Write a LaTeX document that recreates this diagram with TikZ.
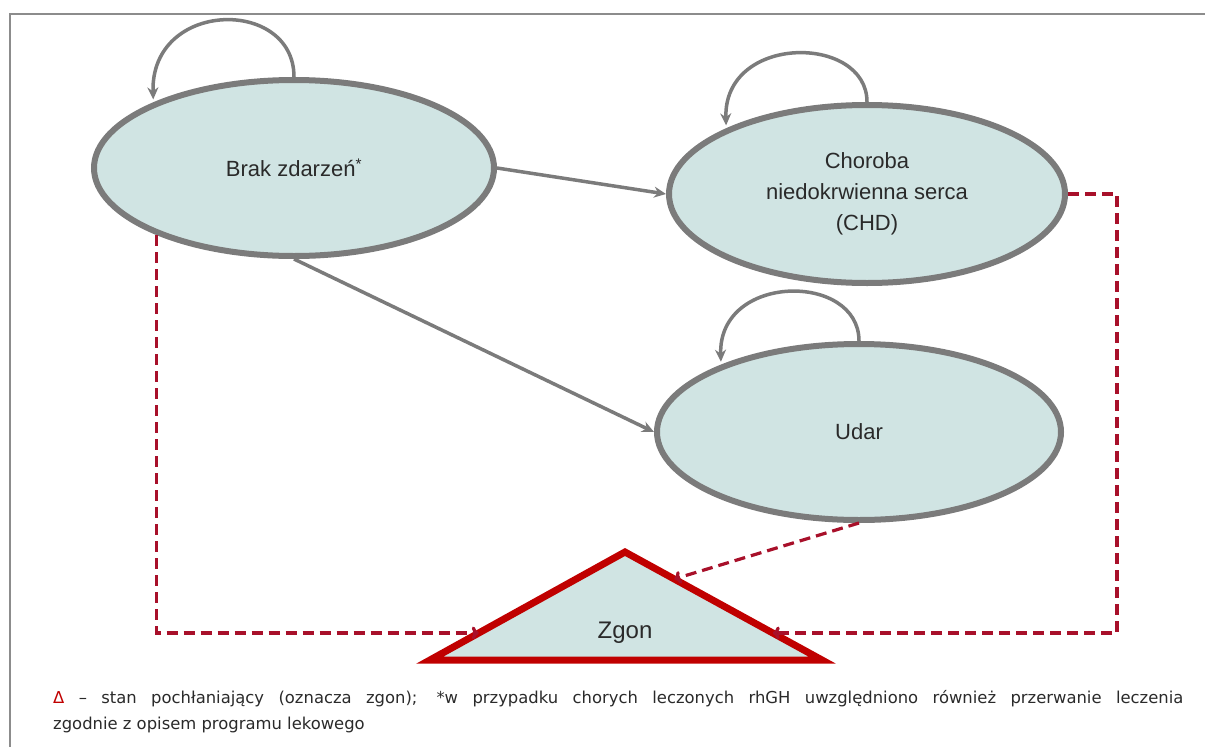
\documentclass[tikz,border=0pt]{standalone}
\usepackage{fontspec}
\setmainfont{Liberation Sans}
\newfontfamily\notefont{DejaVu Sans}
\usetikzlibrary{shapes.geometric,arrows.meta,calc}
\definecolor{efill}{HTML}{D0E4E3}
\definecolor{egray}{HTML}{7B7B7B}
\definecolor{dred}{HTML}{A8102A}
\definecolor{tred}{HTML}{C00000}
\definecolor{framegray}{HTML}{8C8C8C}
\definecolor{txt}{HTML}{2A2A2A}
\begin{document}
\begin{tikzpicture}[x=1pt,y=-1pt,
  state/.style={ellipse, draw=egray, line width=6pt, fill=efill, inner sep=0pt,
    text=txt, font=\fontsize{22}{31}\selectfont, align=center},
  flow/.style={draw=egray, line width=3.5pt, -{Stealth[length=12pt,width=11pt]}},
  loopflow/.style={flow, shorten >=3pt},
  death/.style={draw=dred, line width=3.2pt, dash pattern=on 11pt off 6pt,
    -{To[length=7pt,width=13pt]}}]
\useasboundingbox (0,0) rectangle (1205,747);
\draw[framegray, line width=2.8pt] (1205,14) -- (10,14) -- (10,747);

\node[state, minimum width=400pt, minimum height=176pt] (brak) at (294,168) {Brak zdarzeń\textsuperscript{*}};
\node[state, minimum width=396pt, minimum height=178pt] (chd) at (867,194) {Choroba\\niedokrwienna serca\\(CHD)};
\node[state, minimum width=404pt, minimum height=176pt] (udar) at (859,432) {Udar};

% triangle (absorbing state)
\coordinate (ta) at (625,552);
\coordinate (tl) at (430,660);
\coordinate (tr) at (822,660);
\draw[draw=tred, fill=efill, line width=7pt, line join=miter] (ta) -- (tl) -- (tr) -- cycle;
\node[text=txt, font=\fontsize{24}{28}\selectfont] (zgon) at (625,633) {Zgon};
\coordinate (zl) at ($(ta)!0.75!(tl)$);
\coordinate (zr) at ($(ta)!0.75!(tr)$);
\coordinate (zu) at ($(ta)!0.25!(tr)$);
\coordinate (cr) at (1117,633);

% transitions
\draw[flow] (brak.east) -- (chd.west);
\draw[flow] (brak.south) -- (udar.west);
\draw[loopflow] (brak.north) .. controls +(0,-80) and +(-3,-103) .. (brak.155);
\draw[loopflow] (chd.north) .. controls +(0,-68) and +(-3,-95) .. (chd.155);
\draw[loopflow] (udar.north) .. controls +(0,-69) and +(-3,-92) .. (udar.154);

% death transitions
\draw[death] (brak.206) |- (zl);
\draw[death] (chd.east) -| (cr) -- (zr);
\draw[death] (udar.south) -- (zu);

% footnote
\node[anchor=north west, inner sep=0pt, text width=1130pt, align=justify, text=txt,
  font=\notefont\fontsize{16.4}{26}\selectfont] (note) at (53,690)
  {\textcolor{tred}{Δ} – stan pochłaniający (oznacza zgon); *w przypadku chorych leczonych rhGH uwzględniono również przerwanie leczenia\linebreak zgodnie z opisem programu lekowego};
\end{tikzpicture}
\end{document}
